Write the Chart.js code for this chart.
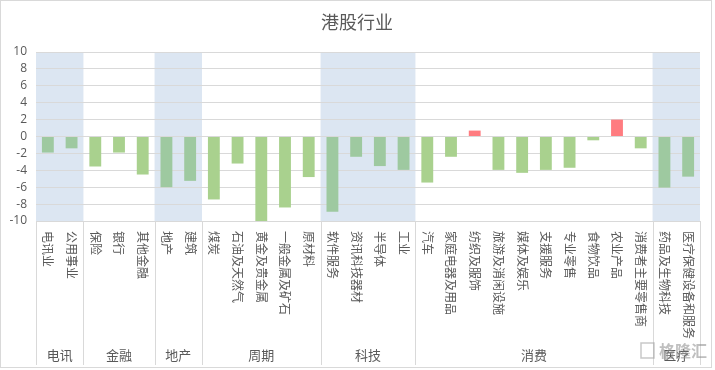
<!DOCTYPE html>
<html lang="zh-CN">
<head>
    <meta charset="UTF-8">
    <title>港股行业</title>
    <script src="https://cdn.jsdelivr.net/npm/chart.js"></script>
    <style>
        body {
            margin: 0;
            padding: 0;
            background-color: #ffffff;
        }

        .chart-box {
            position: relative;
            width: 715px;
            height: 370px;
        }
    </style>
</head>
<body>
    <div class="chart-box">
        <canvas id="barChart"></canvas>
    </div>

    <script>
        // 数据
        const categories = [
            '电讯业', '公用事业',
            '保险', '银行', '其他金融',
            '地产', '建筑',
            '煤炭', '石油及天然气', '黄金及贵金属', '一般金属及矿石', '原材料',
            '软件服务', '资讯科技器材', '半导体', '工业',
            '汽车', '家庭电器及用品', '纺织及服饰', '旅游及消闲设施', '媒体及娱乐',
            '支援服务', '专业零售', '食物饮品', '农业产品', '消费者主要零售商',
            '药品及生物科技', '医疗保健设备和服务'
        ];
        const values = [
            -1.9, -1.4,
            -3.55, -1.9, -4.5,
            -6.0, -5.25,
            -7.45, -3.2, -10.0, -8.4, -4.8,
            -8.9, -2.4, -3.5, -3.95,
            -5.45, -2.4, 0.7, -3.95, -4.3,
            -3.95, -3.7, -0.45, 2.0, -1.4,
            -6.05, -4.75
        ];
        const groupNames = ['电讯', '金融', '地产', '周期', '科技', '消费', '医疗'];
        const groupSizes = [2, 3, 2, 5, 4, 10, 2];
        const shadedGroups = [0, 2, 4, 6];
        const yTicks = [-10, -8, -6, -4, -2, 0, 2, 4, 6, 8, 10];

        const textColor = '#595959';
        const lineColor = '#d9d9d9';
        const cjkFont = '"Noto Sans CJK SC", "Noto Sans", sans-serif';

        // 每个类别属于哪个分组
        const groupOf = [];
        groupSizes.forEach((n, g) => { for (let k = 0; k < n; k++) groupOf.push(g); });

        function groupRange(xScale, g) {
            const start = groupSizes.slice(0, g).reduce((a, b) => a + b, 0);
            const end = start + groupSizes[g] - 1;
            const half = (xScale.getPixelForValue(1) - xScale.getPixelForValue(0)) / 2;
            return [xScale.getPixelForValue(start) - half, xScale.getPixelForValue(end) + half];
        }

        // 蓝色背景带
        const bandPlugin = {
            id: 'bands',
            beforeDraw(chart) {
                const ctx = chart.ctx;
                const area = chart.chartArea;
                const xs = chart.scales.x;
                ctx.save();
                ctx.fillStyle = '#dce6f2';
                shadedGroups.forEach(g => {
                    const [a, b] = groupRange(xs, g);
                    ctx.fillRect(a, area.top, b - a, area.bottom - area.top);
                });
                ctx.restore();
            }
        };

        // 标题、类别标签、分组标签、边框
        const labelPlugin = {
            id: 'labels',
            afterDraw(chart) {
                const ctx = chart.ctx;
                const area = chart.chartArea;
                const xs = chart.scales.x;
                ctx.save();

                ctx.fillStyle = textColor;
                ctx.font = '18px ' + cjkFont;
                ctx.textAlign = 'center';
                ctx.textBaseline = 'middle';
                ctx.fillText('港股行业', 357, 22);

                ctx.font = '12px ' + cjkFont;
                categories.forEach((c, i) => {
                    ctx.save();
                    ctx.translate(xs.getPixelForValue(i), area.bottom + 10);
                    ctx.rotate(Math.PI / 2);
                    ctx.textAlign = 'left';
                    ctx.textBaseline = 'middle';
                    ctx.fillText(c, 0, 0);
                    ctx.restore();
                });

                ctx.strokeStyle = lineColor;
                ctx.lineWidth = 1;
                ctx.font = '13px ' + cjkFont;
                groupNames.forEach((name, g) => {
                    const [a, b] = groupRange(xs, g);
                    ctx.beginPath();
                    ctx.moveTo(Math.round(a) + 0.5, area.bottom);
                    ctx.lineTo(Math.round(a) + 0.5, 365);
                    ctx.moveTo(Math.round(b) + 0.5, area.bottom);
                    ctx.lineTo(Math.round(b) + 0.5, 365);
                    ctx.stroke();
                    ctx.fillText(name, (a + b) / 2, 355);
                });

                ctx.strokeRect(0.5, 0.5, 711, 367);

                // 水印
                ctx.globalAlpha = 0.55;
                ctx.strokeStyle = '#9a9a9a';
                ctx.lineWidth = 1.5;
                ctx.strokeRect(641, 343, 13, 15);
                ctx.fillStyle = '#8a8a8a';
                ctx.font = 'bold 16px ' + cjkFont;
                ctx.textAlign = 'left';
                ctx.fillText('格隆汇', 659, 351);
                ctx.restore();
            }
        };

        const barChartData = {
            labels: categories,
            datasets: [{
                data: values,
                backgroundColor: ctx => {
                    const v = values[ctx.dataIndex];
                    if (v > 0) return '#ff7c80';
                    return shadedGroups.includes(groupOf[ctx.dataIndex]) ? '#9ec9a0' : '#a9d18e';
                },
                borderWidth: 0,
                barPercentage: 0.5,
                categoryPercentage: 1.0
            }]
        };

        const barChartConfig = {
            type: 'bar',
            data: barChartData,
            options: {
                responsive: true,
                maintainAspectRatio: false,
                animation: false,
                layout: {
                    padding: { top: 52, right: 15, bottom: 0, left: 0 }
                },
                plugins: {
                    legend: { display: false },
                    title: { display: false },
                    tooltip: { enabled: false }
                },
                scales: {
                    x: {
                        grid: { display: false },
                        border: { display: false },
                        ticks: { display: false },
                        afterFit: s => { s.height = 149; }
                    },
                    y: {
                        min: -10,
                        max: 10,
                        afterBuildTicks: s => { s.ticks = yTicks.map(v => ({ value: v })); },
                        grid: { color: lineColor, drawTicks: false },
                        border: { display: false },
                        ticks: {
                            autoSkip: false,
                            color: textColor,
                            padding: 9,
                            font: { size: 12, family: '"Open Sans", "DejaVu Sans", sans-serif' }
                        },
                        afterFit: s => { s.width = 36; }
                    }
                }
            },
            plugins: [bandPlugin, labelPlugin]
        };

        const barChartCtx = document.getElementById('barChart').getContext('2d');
        new Chart(barChartCtx, barChartConfig);
    </script>
</body>
</html>
